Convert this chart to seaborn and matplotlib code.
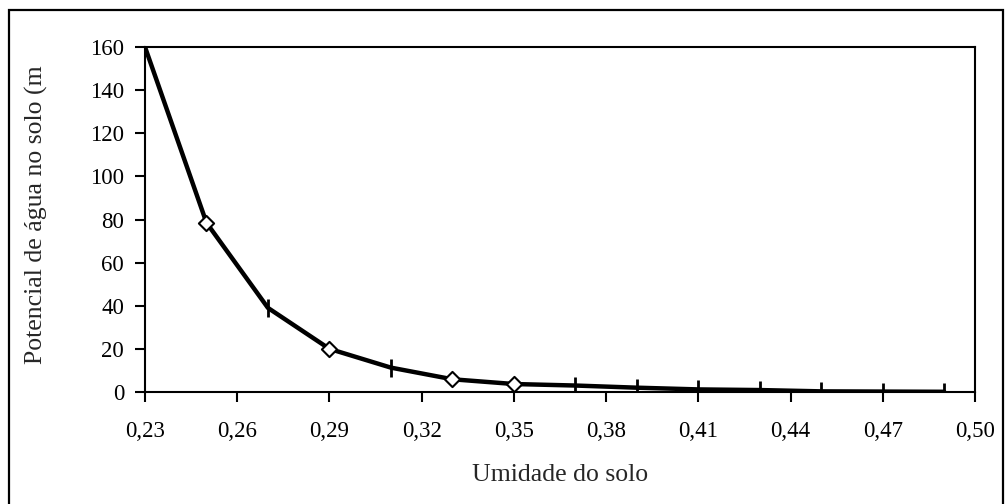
import matplotlib
matplotlib.use("Agg")
import matplotlib.pyplot as plt
import seaborn as sns
import numpy as np
import pandas as pd
from matplotlib.patches import Rectangle

# ── Dados ────────────────────────────────────────────────────────────────────
umidade = [0.23, 0.25, 0.27, 0.29, 0.31, 0.33, 0.35, 0.37, 0.39, 0.41, 0.43, 0.45, 0.47, 0.49]
potencial = [160, 78.5, 39, 20, 11.3, 5.9, 3.7, 3.0, 2.0, 1.2, 0.9, 0.3, 0.2, 0.1]
# pontos com losango aberto; os demais levam traço vertical
losango = [0.25, 0.29, 0.33, 0.35]
traco = [0.27, 0.31, 0.37, 0.39, 0.41, 0.43, 0.45, 0.47, 0.49]

x_ticks = [0.23, 0.26, 0.29, 0.32, 0.35, 0.38, 0.41, 0.44, 0.47, 0.50]
x_ticklabels = ["0,23", "0,26", "0,29", "0,32", "0,35", "0,38", "0,41", "0,44", "0,47", "0,50"]
y_ticks = [0, 20, 40, 60, 80, 100, 120, 140, 160]

df = pd.DataFrame({"umidade": umidade, "potencial": potencial})
df_los = df[df["umidade"].isin(losango)]
df_tr = df[df["umidade"].isin(traco)]

# ── Estilo ───────────────────────────────────────────────────────────────────
sns.set_style("ticks")
plt.rcParams["font.family"] = ["Liberation Serif", "DejaVu Serif"]

fig = plt.figure(figsize=(10.05, 5.04), dpi=100)
ax = fig.add_axes([145 / 1005, 1 - 392 / 504, 830 / 1005, (392 - 47) / 504])

sns.lineplot(data=df, x="umidade", y="potencial", color="black", linewidth=3.2,
             ax=ax, zorder=3)
sns.scatterplot(data=df_tr, x="umidade", y="potencial", marker="|", s=160,
                color="black", linewidth=2, ax=ax, zorder=4)
sns.scatterplot(data=df_los, x="umidade", y="potencial", marker="D", s=60,
                facecolor="white", edgecolor="black", linewidth=1.5, ax=ax, zorder=5)

ax.set_xlim(0.23, 0.50)
ax.set_ylim(0, 160)
ax.set_xticks(x_ticks)
ax.set_xticklabels(x_ticklabels)
ax.set_yticks(y_ticks)
ax.tick_params(axis="both", direction="out", length=7, width=1.5, labelsize=16.5,
               colors="black")
ax.tick_params(axis="x", pad=14)
ax.tick_params(axis="y", pad=8)
for s in ax.spines.values():
    s.set_visible(True)
    s.set_linewidth(1.5)
    s.set_color("black")

ax.set_xlabel("Umidade do solo", fontsize=18.5)
ax.set_ylabel("Potencial de água no solo (m", fontsize=18.5)
ax.xaxis.set_label_coords(0.5, -0.21)
ax.yaxis.set_label_coords(-0.117, 0.513)

# moldura externa do gráfico
fig.patches.append(Rectangle((9 / 1005, -0.05), (1003 - 9) / 1005, 1.05 - 10 / 504,
                             transform=fig.transFigure, fill=False,
                             edgecolor="black", linewidth=1.6))

fig.savefig("out.png", dpi=100)
